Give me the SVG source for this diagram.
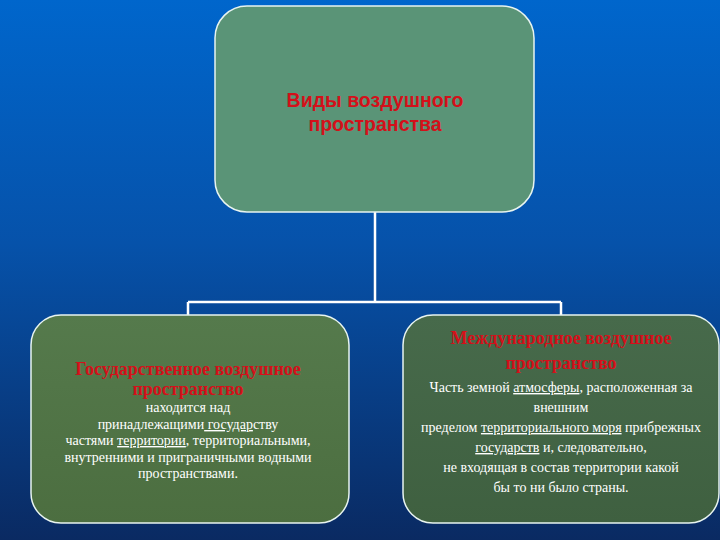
<svg xmlns="http://www.w3.org/2000/svg" width="720" height="540" viewBox="0 0 720 540">
<defs>
<linearGradient id="bg" x1="0" y1="0" x2="0" y2="1">
<stop offset="0" stop-color="#0066cc"/>
<stop offset="0.45" stop-color="#0652aa"/>
<stop offset="1" stop-color="#0a2a62"/>
</linearGradient>
<linearGradient id="gl" x1="0" y1="0" x2="0" y2="1">
<stop offset="0" stop-color="#557a4c"/>
<stop offset="1" stop-color="#4c6e40"/>
</linearGradient>
<linearGradient id="gr" x1="0" y1="0" x2="0" y2="1">
<stop offset="0" stop-color="#476a4b"/>
<stop offset="1" stop-color="#3f6040"/>
</linearGradient>
<style>
.box{stroke:#e8f4f0;stroke-width:1.5}
.conn{stroke:#ffffff;stroke-width:2.5;fill:none}
.t0{font-family:"Liberation Sans",Arial,sans-serif;font-weight:bold;font-size:19.5px;fill:#d4101a;text-anchor:middle}
.th{font-family:"Liberation Serif","Times New Roman",serif;font-weight:bold;font-size:18px;fill:#d4101a;text-anchor:middle}
.tb{font-family:"Liberation Serif","Times New Roman",serif;font-size:14px;fill:#ffffff;text-anchor:middle}
.u{text-decoration:underline}
</style>
</defs>
<rect width="720" height="540" fill="url(#bg)"/>
<g id="connectors">
<path class="conn" d="M375,212 V302 M188,302 H561 M188,302 V315 M561,302 V315"/>
</g>
<g id="root">
<rect class="box" x="215" y="6" width="319" height="206" rx="32" fill="#5a9477"/>
<text class="t0" x="375" y="107">Виды воздушного</text>
<text class="t0" x="375" y="131">пространства</text>
</g>
<g id="state">
<rect class="box" x="31" y="315" width="318" height="208" rx="30" fill="url(#gl)"/>
<text class="th" x="188" y="375">Государственное воздушное</text>
<text class="th" x="188" y="395">пространство</text>
<text class="tb" x="188" y="412">находится над</text>
<text class="tb" x="188" y="429">принадлежащими<tspan class="u"> государ</tspan>ству</text>
<text class="tb" x="188" y="445">частями <tspan class="u">территории</tspan>, территориальными,</text>
<text class="tb" x="188" y="462">внутренними и приграничными водными</text>
<text class="tb" x="188" y="478">пространствами.</text>
</g>
<g id="international">
<rect class="box" x="403" y="315" width="316" height="208" rx="30" fill="url(#gr)"/>
<text class="th" x="561" y="344">Международное воздушное</text>
<text class="th" x="561" y="369">пространство</text>
<text class="tb" x="561" y="392">Часть земной <tspan class="u">атмосферы</tspan>, расположенная за</text>
<text class="tb" x="561" y="412">внешним</text>
<text class="tb" x="561" y="432">пределом <tspan class="u">территориального моря</tspan> прибрежных</text>
<text class="tb" x="561" y="452"><tspan class="u">государств</tspan> и, следовательно,</text>
<text class="tb" x="561" y="472">не входящая в состав территории какой</text>
<text class="tb" x="561" y="492">бы то ни было страны.</text>
</g>
</svg>
